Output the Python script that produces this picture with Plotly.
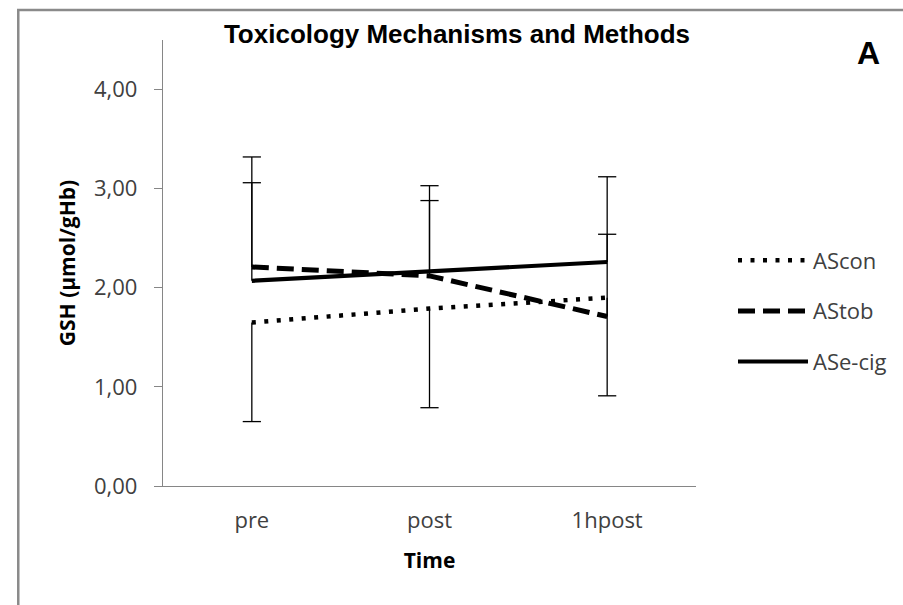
import plotly.graph_objects as go

# ---- data ----
categories = ["pre", "post", "1hpost"]
series_names = ["AScon", "AStob", "ASe-cig"]
ascon = [1.65, 1.79, 1.90]
astob = [2.21, 2.12, 1.71]
asecig = [2.07, 2.17, 2.26]
# error bars (Excel style: one direction per series)
ascon_err_plus = [0, 0, 0]
ascon_err_minus = [1.00, 1.00, 0.99]
astob_err_plus = [1.11, 0.76, 0.83]
astob_err_minus = [0, 0, 0]
asecig_err_plus = [0.99, 0.86, 0.86]
asecig_err_minus = [0, 0, 0]
y_ticks = [0, 1, 2, 3, 4]

W, H = 903, 605
ML, MR, MT, MB = 163, 206, 40, 119
PW, PH = W - ML - MR, H - MT - MB


def px_x(p):
    return (p - ML) / PW


def px_y(p):
    return (H - MB - p) / PH


styles = [
    dict(width=4.5, dash="4px,8.5px"),
    dict(width=5, dash="17px,8px"),
    dict(width=4.2, dash="solid"),
]
values = [ascon, astob, asecig]
plus = [ascon_err_plus, astob_err_plus, asecig_err_plus]
minus = [ascon_err_minus, astob_err_minus, asecig_err_minus]

fig = go.Figure()

# error bars (vertical lines, no caps) + caps as markers
for v, p, m in zip(values, plus, minus):
    fig.add_trace(go.Scatter(
        x=categories, y=v, mode="markers", marker=dict(size=0.1, color="rgba(0,0,0,0)"),
        error_y=dict(type="data", symmetric=False, array=p, arrayminus=m,
                     width=0, thickness=1.3, color="black"),
        showlegend=False, hoverinfo="skip"))
    cx, cy = [], []
    for c, val, pp, mm in zip(categories, v, p, m):
        if pp > 0:
            cx.append(c); cy.append(val + pp)
        if mm > 0:
            cx.append(c); cy.append(val - mm)
    fig.add_trace(go.Scatter(
        x=cx, y=cy, mode="markers",
        marker=dict(symbol="line-ew", size=13, line=dict(width=1.3, color="black")),
        showlegend=False, hoverinfo="skip"))

for i, (name, v, st) in enumerate(zip(series_names, values, styles)):
    fig.add_trace(go.Scatter(
        x=categories, y=v, mode="lines", name=name,
        line=dict(color="black", width=st["width"], dash=st["dash"]),
        legendgroup=name))

fig.update_layout(
    width=W, height=H,
    margin=dict(l=ML, r=MR, t=MT, b=MB),
    paper_bgcolor="white", plot_bgcolor="white",
    separators=",.",
    font=dict(family="Open Sans", size=22, color="#404040"),
    title=dict(text="<b>Toxicology Mechanisms and Methods</b>",
               font=dict(family="Liberation Sans", size=26, color="black"),
               x=457 / W, xanchor="center", y=1 - 34 / H, yanchor="middle"),
    showlegend=True,
    legend=dict(x=px_x(733), xanchor="left", y=px_y(311), yanchor="middle",
                font=dict(family="Open Sans", size=22, color="#404040"),
                itemwidth=70, tracegroupgap=19, traceorder="grouped",
                bgcolor="rgba(0,0,0,0)"),
    xaxis=dict(type="category", range=[-0.5, 2.5], showgrid=False,
               showline=True, linecolor="#868686", linewidth=1.3,
               ticks="", ticklabelstandoff=14,
               title=dict(text="<b>Time</b>", standoff=20,
                          font=dict(family="Open Sans", size=21, color="black"))),
    yaxis=dict(range=[0, 4.5], tickvals=y_ticks, tickformat=".2f", showgrid=False,
               zeroline=False, showline=True, linecolor="#868686", linewidth=1.3,
               ticks="outside", ticklen=8, tickcolor="#868686", tickwidth=1.3,
               ticklabelstandoff=12,
               title=dict(text="<b>GSH (µmol/gHb)</b>", standoff=12,
                          font=dict(family="Open Sans", size=21, color="black"))),
    shapes=[dict(type="rect", xref="paper", yref="paper",
                 x0=px_x(18), x1=px_x(W + 20), y0=px_y(H + 20), y1=px_y(10),
                 line=dict(color="#8a8a8a", width=2.5), layer="below")],
    annotations=[dict(text="<b>A</b>", xref="paper", yref="paper",
                      x=px_x(870), y=px_y(53), xanchor="center", yanchor="middle",
                      showarrow=False,
                      font=dict(family="Liberation Sans", size=32, color="black"))],
)

fig.write_html("out.html")
